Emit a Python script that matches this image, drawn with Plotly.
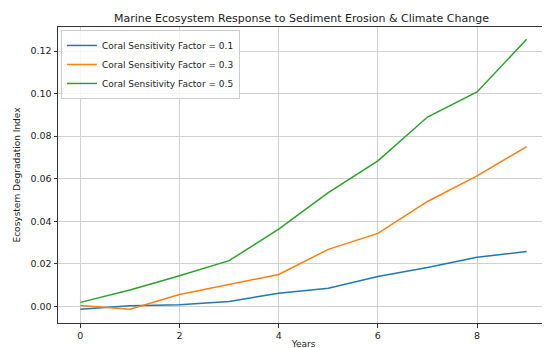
import plotly.graph_objects as go

years = [0, 1, 2, 3, 4, 5, 6, 7, 8, 9]
series_names = ["Coral Sensitivity Factor = 0.1", "Coral Sensitivity Factor = 0.3", "Coral Sensitivity Factor = 0.5"]
s01 = [-0.0013, 0.0003, 0.0008, 0.0023, 0.0062, 0.0085, 0.0141, 0.0183, 0.0231, 0.0258]
s03 = [0.0004, -0.0013, 0.0056, 0.0103, 0.0150, 0.0268, 0.0343, 0.0493, 0.0613, 0.0751]
s05 = [0.0019, 0.0077, 0.0144, 0.0215, 0.0363, 0.0535, 0.0684, 0.0890, 0.1008, 0.1255]
colors = ["#1f77b4", "#ff7f0e", "#2ca02c"]

fig = go.Figure()
for name, ys, c in zip(series_names, [s01, s03, s05], colors):
    fig.add_trace(go.Scatter(x=years, y=ys, mode="lines", name=name,
                             line=dict(color=c, width=1.5)))

font = "DejaVu Sans, sans-serif"
axis_common = dict(showline=True, linecolor="#333333", linewidth=1, mirror=True,
                   showgrid=True, gridcolor="#d0d0d0", gridwidth=1,
                   ticks="outside", ticklen=3.5, tickcolor="#333333",
                   tickfont=dict(family=font, size=9.5, color="#222222"),
                   zeroline=False)

fig.update_layout(
    width=550, height=348,
    margin=dict(l=45, r=8, t=19, b=33),
    paper_bgcolor="white", plot_bgcolor="white",
    title=dict(text="Marine Ecosystem Response to Sediment Erosion & Climate Change",
               x=(45 + 542) / 2 / 550, xanchor="center", y=1 - 10 / 348, yanchor="middle",
               font=dict(family=font, size=11, color="#222222")),
    xaxis=dict(range=[-0.45, 9.45], tickvals=[0, 2, 4, 6, 8],
               title=dict(text="Years", font=dict(family=font, size=9, color="#222222"), standoff=0),
               **axis_common),
    yaxis=dict(range=[-0.0078, 0.1313], tickvals=[0, 0.02, 0.04, 0.06, 0.08, 0.10, 0.12],
               tickformat=".2f",
               title=dict(text="Ecosystem Degradation Index", font=dict(family=font, size=9, color="#222222"), standoff=8),
               **axis_common),
    legend=dict(x=0.006, y=0.99, xanchor="left", yanchor="top",
                bgcolor="rgba(255,255,255,0.8)", bordercolor="#cccccc", borderwidth=1,
                font=dict(family=font, size=9, color="#222222"),
                tracegroupgap=0, itemwidth=30),
    showlegend=True,
)

fig.write_html("out.html")
